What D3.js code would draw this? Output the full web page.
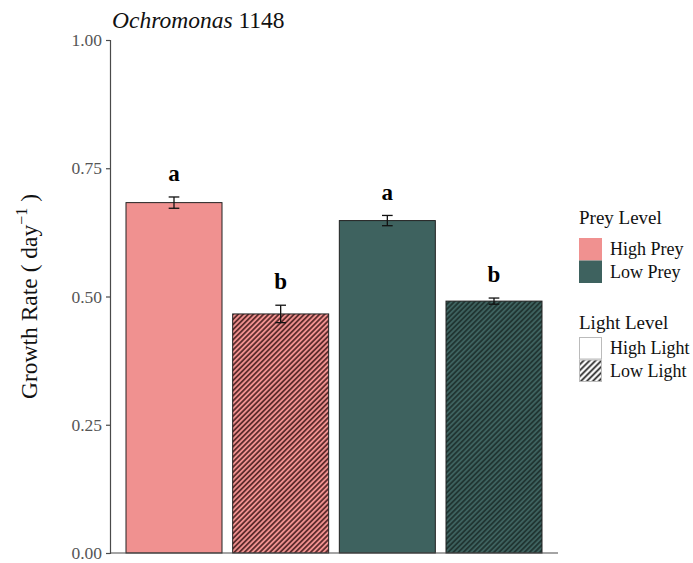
<!DOCTYPE html>
<html>
<head>
<meta charset="utf-8">
<script src="https://cdn.jsdelivr.net/npm/d3@7"></script>
<style>
  html, body { margin: 0; padding: 0; background: #fff; }
  svg { display: block; font-family: "Liberation Serif", "Times New Roman", serif; }
</style>
</head>
<body>
<svg id="chart" width="693" height="563"></svg>
<script>
// Growth rate of Ochromonas 1148 under prey x light treatments
const treatments = ["HP-HL", "HP-LL", "LP-HL", "LP-LL"];
const preyLevel  = ["High Prey", "High Prey", "Low Prey", "Low Prey"];
const lightLevel = ["High Light", "Low Light", "High Light", "Low Light"];
const growthMean = [0.683, 0.466, 0.648, 0.491];
const growthSE   = [0.011, 0.017, 0.010, 0.006];
const sigLetters = ["a", "b", "a", "b"];
const yTicks     = [0, 0.25, 0.5, 0.75, 1.0];

const preyDomain  = ["High Prey", "Low Prey"];
const lightDomain = ["High Light", "Low Light"];
const preyColors  = ["#F09190", "#3E625F"];

const svg = d3.select("#chart");
const margin = { top: 40, left: 110 };
const plotRight = 558;
const plotBottom = 553;

const x = d3.scaleBand()
  .domain(treatments)
  .range([margin.left, plotRight])
  .paddingInner(0.1)
  .paddingOuter(0.15);

const y = d3.scaleLinear().domain([0, 1]).range([plotBottom, margin.top]);
const fill = d3.scaleOrdinal().domain(preyDomain).range(preyColors);

// Hatch patterns for the low-light treatment
const defs = svg.append("defs");
function hatch(id, bg, stroke, opacity, size, sw) {
  const p = defs.append("pattern")
    .attr("id", id)
    .attr("patternUnits", "userSpaceOnUse")
    .attr("width", size).attr("height", size)
    .attr("patternTransform", "rotate(45)");
  p.append("rect").attr("width", size).attr("height", size).attr("fill", bg);
  p.append("line")
    .attr("x1", size / 2).attr("y1", 0).attr("x2", size / 2).attr("y2", size)
    .attr("stroke", stroke).attr("stroke-width", sw)
    .attr("stroke-opacity", opacity);
}
hatch("hatch-high", preyColors[0], "#3a1414", 0.9, 3.6, 1.6);
hatch("hatch-low", preyColors[1], "#1a2a28", 0.9, 3.6, 1.6);
hatch("hatch-key", "#ffffff", "#222222", 0.95, 4.2, 1.8);

function barFill(i) {
  if (lightLevel[i] === "Low Light") {
    return preyLevel[i] === "High Prey" ? "url(#hatch-high)" : "url(#hatch-low)";
  }
  return fill(preyLevel[i]);
}

// Bars
const bars = svg.append("g");
treatments.forEach((t, i) => {
  bars.append("rect")
    .attr("x", x(t))
    .attr("y", y(growthMean[i]))
    .attr("width", x.bandwidth())
    .attr("height", y(0) - y(growthMean[i]))
    .attr("fill", barFill(i))
    .attr("stroke", "#222")
    .attr("stroke-width", 1);
});

// Error bars
const errW = x.step() * 0.1;
const errs = svg.append("g").attr("stroke", "#111").attr("stroke-width", 1.3);
treatments.forEach((t, i) => {
  const cx = x(t) + x.bandwidth() / 2;
  const lo = y(growthMean[i] - growthSE[i]);
  const hi = y(growthMean[i] + growthSE[i]);
  errs.append("line").attr("x1", cx).attr("x2", cx).attr("y1", lo).attr("y2", hi);
  errs.append("line").attr("x1", cx - errW / 2).attr("x2", cx + errW / 2).attr("y1", lo).attr("y2", lo);
  errs.append("line").attr("x1", cx - errW / 2).attr("x2", cx + errW / 2).attr("y1", hi).attr("y2", hi);
});

// Significance letters
svg.append("g").selectAll("text")
  .data(treatments)
  .join("text")
  .attr("x", d => x(d) + x.bandwidth() / 2)
  .attr("y", (d, i) => y(growthMean[i] + growthSE[i] + 0.031))
  .attr("text-anchor", "middle")
  .attr("font-size", 23)
  .attr("font-weight", "bold")
  .attr("fill", "#000")
  .text((d, i) => sigLetters[i]);

// Y axis
const yAxis = svg.append("g")
  .attr("transform", `translate(${margin.left},0)`)
  .call(d3.axisLeft(y).tickValues(yTicks).tickFormat(d3.format(".2f")).tickSize(4).tickPadding(4));
yAxis.select(".domain").attr("stroke", "#4a4a4a").attr("stroke-width", 1.2);
yAxis.selectAll(".tick line").attr("stroke", "#4a4a4a").attr("stroke-width", 1.2);
yAxis.selectAll(".tick text")
  .attr("font-family", "Liberation Serif, serif")
  .attr("font-size", 17.5)
  .attr("fill", "#555");

// X axis line (no ticks)
svg.append("line")
  .attr("x1", margin.left).attr("x2", plotRight)
  .attr("y1", plotBottom).attr("y2", plotBottom)
  .attr("stroke", "#4a4a4a").attr("stroke-width", 1.2);

// Y axis title
const yTitle = svg.append("text")
  .attr("transform", `translate(37,${(plotBottom + margin.top) / 2}) rotate(-90)`)
  .attr("text-anchor", "middle")
  .attr("font-size", 23.5)
  .attr("fill", "#111");
yTitle.append("tspan").text("Growth Rate ( day");
yTitle.append("tspan").attr("dy", -10).attr("font-size", 16).text("\u22121");
yTitle.append("tspan").attr("dy", 10).text(" )");

// Plot title
const title = svg.append("text")
  .attr("x", 112).attr("y", 28)
  .attr("font-size", 23.5)
  .attr("fill", "#111");
title.append("tspan").attr("font-style", "italic").text("Ochromonas");
title.append("tspan").text(" 1148");

// Legends
const lg = svg.append("g").attr("transform", "translate(579,0)");
const keyW = 23, keyH = 22.5;

lg.append("text").attr("x", 0).attr("y", 224).attr("font-size", 19).attr("fill", "#111").text("Prey Level");
preyDomain.forEach((p, i) => {
  const ky = 238 + i * keyH;
  lg.append("rect").attr("x", 0).attr("y", ky).attr("width", keyW).attr("height", keyH)
    .attr("fill", fill(p));
  lg.append("text").attr("x", 31).attr("y", ky + keyH / 2 + 6)
    .attr("font-size", 18).attr("fill", "#111").text(p);
});

lg.append("text").attr("x", 0).attr("y", 329).attr("font-size", 19).attr("fill", "#111").text("Light Level");
lightDomain.forEach((l, i) => {
  const ky = 337 + i * keyH;
  lg.append("rect").attr("x", 0.5).attr("y", ky + 0.5).attr("width", keyW - 1).attr("height", keyH - 1)
    .attr("fill", l === "Low Light" ? "url(#hatch-key)" : "#fff")
    .attr("stroke", "#bbb").attr("stroke-width", 1);
  lg.append("text").attr("x", 31).attr("y", ky + keyH / 2 + 6)
    .attr("font-size", 18).attr("fill", "#111").text(l);
});
</script>
</body>
</html>
